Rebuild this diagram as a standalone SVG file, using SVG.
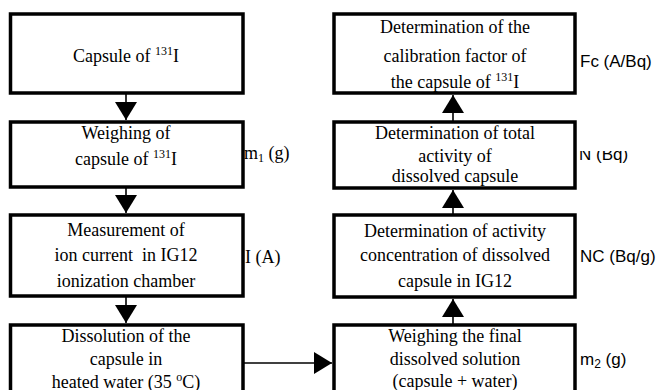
<svg xmlns="http://www.w3.org/2000/svg" width="661" height="390" viewBox="0 0 661 390">
<style>
.box{fill:#fff;stroke:#000;stroke-width:3.5}
.t{font-family:"Liberation Serif","Times New Roman",serif;font-size:18px;fill:#000;text-anchor:middle}
.lab{font-family:"Liberation Serif","Times New Roman",serif;font-size:18px;fill:#000}
.sl{font-family:"Liberation Sans",Arial,sans-serif;font-size:17px;fill:#000}
.c{stroke:#000;stroke-width:1.6;fill:none;marker-end:url(#ah)}
</style>
<defs>
<marker id="ah" viewBox="0 0 18 22" refX="18" refY="11" markerWidth="18" markerHeight="22" markerUnits="userSpaceOnUse" orient="auto">
<path d="M0,0 L18,11 L0,22 z" fill="#000"/>
</marker>
<clipPath id="nclip"><rect x="570" y="151" width="91" height="30"/></clipPath>
</defs>
<rect width="661" height="390" fill="#fff"/>
<g id="connectors">
<line class="c" x1="126" y1="93" x2="126" y2="120"/>
<line class="c" x1="126" y1="187" x2="126" y2="213"/>
<line class="c" x1="126" y1="296" x2="126" y2="323"/>
<line class="c" x1="243" y1="363" x2="332" y2="363"/>
<line class="c" x1="453" y1="325" x2="453" y2="299"/>
<line class="c" x1="453" y1="215" x2="453" y2="190"/>
<line class="c" x1="453" y1="122" x2="453" y2="95"/>
</g>
<g id="capsule">
<rect class="box" x="10.5" y="14" width="232.5" height="79"/>
<text class="t" x="126" y="62">Capsule of <tspan font-size="12" dy="-7">131</tspan><tspan dy="7">I</tspan></text>
</g>
<g id="weighing">
<rect class="box" x="10.5" y="122" width="232.5" height="65"/>
<text class="t" x="126" y="139">Weighing of</text>
<text class="t" x="126" y="165">capsule of <tspan font-size="12" dy="-7">131</tspan><tspan dy="7">I</tspan></text>
<text class="lab" x="244" y="159">m<tspan font-size="12" dy="3">1</tspan><tspan dy="-3"> (g)</tspan></text>
</g>
<g id="measurement">
<rect class="box" x="10.5" y="215" width="232.5" height="81"/>
<text class="t" x="126" y="236">Measurement of</text>
<text class="t" x="126" y="261" xml:space="preserve">ion current  in IG12</text>
<text class="t" x="126" y="287">ionization chamber</text>
<text class="lab" x="245" y="263">I (A)</text>
</g>
<g id="dissolution">
<rect class="box" x="10.5" y="325" width="232.5" height="80"/>
<text class="t" x="126" y="342">Dissolution of the</text>
<text class="t" x="126" y="365">capsule in</text>
<text class="t" x="126" y="388">heated water (35 <tspan font-size="12" dy="-7">o</tspan><tspan dy="7">C)</tspan></text>
</g>
<g id="calibration">
<rect class="box" x="334" y="14" width="241" height="79"/>
<text class="t" x="455" y="33">Determination of the</text>
<text class="t" x="455" y="62">calibration factor of</text>
<text class="t" x="455" y="88">the capsule of <tspan font-size="12" dy="-7">131</tspan><tspan dy="7">I</tspan></text>
<text class="sl" x="580" y="67">Fc (A/Bq)</text>
</g>
<g id="total">
<rect class="box" x="334" y="122" width="241" height="66"/>
<text class="t" x="455" y="139">Determination of total</text>
<text class="t" x="455" y="162">activity of</text>
<text class="t" x="455" y="182">dissolved capsule</text>
<text class="sl" x="579" y="160" clip-path="url(#nclip)">N (Bq)</text>
</g>
<g id="concentration">
<rect class="box" x="334" y="215" width="241" height="82"/>
<text class="t" x="455" y="237">Determination of activity</text>
<text class="t" x="455" y="261">concentration of dissolved</text>
<text class="t" x="455" y="287">capsule in IG12</text>
<text class="sl" x="580" y="262">NC (Bq/g)</text>
</g>
<g id="final">
<rect class="box" x="334" y="325" width="241" height="80"/>
<text class="t" x="455" y="342">Weighing the final</text>
<text class="t" x="455" y="365">dissolved solution</text>
<text class="t" x="455" y="387">(capsule + water)</text>
<text class="sl" x="580" y="365">m<tspan font-size="12" dy="3">2</tspan><tspan dy="-3"> (g)</tspan></text>
</g>
</svg>
